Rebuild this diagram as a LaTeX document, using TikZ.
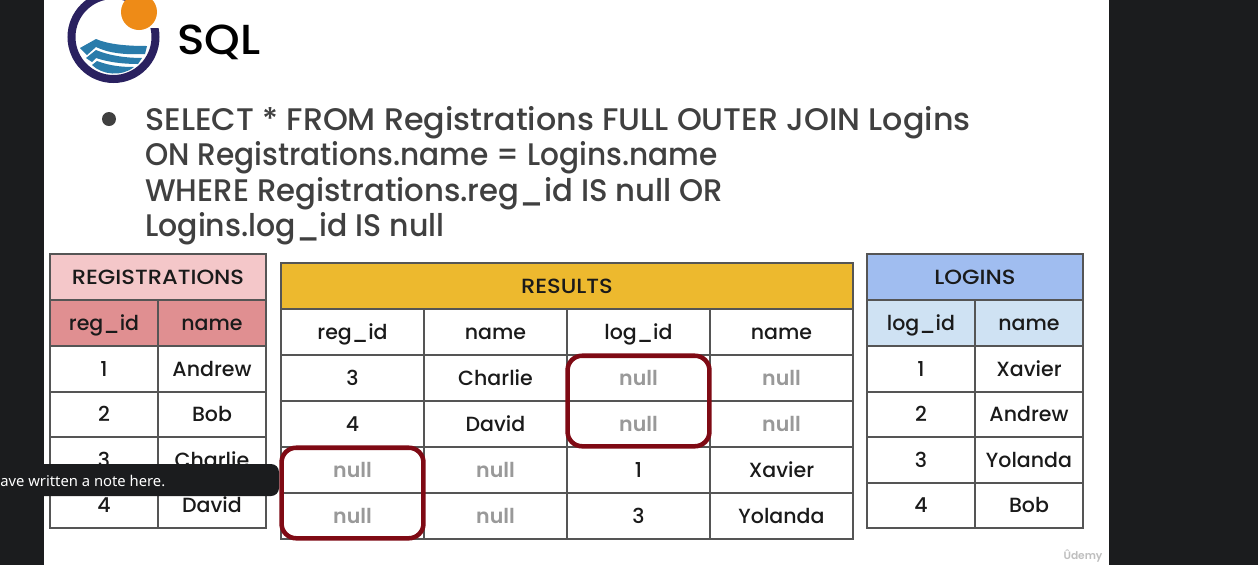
\documentclass[tikz,border=0pt]{standalone}
\usepackage{fontspec}
\setmainfont{Poppins}
\newfontfamily\medfont{Poppins Medium}
\newfontfamily\semifont{Poppins SemiBold}
\newfontfamily\notefont{Noto Sans}
\usetikzlibrary{fit, positioning, calc}
\definecolor{darkbg}{HTML}{1B1C1E}
\definecolor{ringcol}{HTML}{2A2160}
\definecolor{suncol}{HTML}{EE8B17}
\definecolor{seacol}{HTML}{2A7CAB}
\definecolor{linecol}{HTML}{555555}
\definecolor{regtop}{HTML}{F4C7C9}
\definecolor{reghead}{HTML}{E08F91}
\definecolor{restop}{HTML}{EDB92E}
\definecolor{logtop}{HTML}{A0BDF0}
\definecolor{loghead}{HTML}{CFE2F3}
\definecolor{nullcol}{HTML}{999999}
\definecolor{boxcol}{HTML}{7F0A14}
\definecolor{inkcol}{HTML}{1A1A1A}

\begin{document}
\begin{tikzpicture}[x=0.75pt,y=-0.75pt,
  cell/.style={rectangle,draw=linecol,line width=1.6pt,fill=white,minimum width=81pt,minimum height=34.2pt,inner sep=0pt,
    text=inkcol,font=\medfont\fontsize{15.4}{18}\selectfont,text height=11pt,text depth=0pt},
  wide/.style={cell,minimum width=107.25pt},
  nullcell/.style={wide,text=nullcol,font=\semifont\fontsize{15.4}{18}\selectfont},
  banner/.style={cell,minimum width=162pt,minimum height=34.5pt,font=\medfont\fontsize{15.4}{18}\selectfont\addfontfeature{FakeStretch=1.1}},
  nullbox/.style={rectangle,draw=boxcol,line width=3.4pt,rounded corners=11pt,inner sep=-1.2pt},
  sqlline/.style={anchor=base west,inner sep=0pt,text=black!75,font=\medfont\fontsize{23.4}{28}\selectfont},
]
  \useasboundingbox (0,0) rectangle (1258,565);
  \clip (0,0) rectangle (1258,565);
  \fill[darkbg] (0,0) rectangle (1258,565);
  \fill[white] (44,0) rectangle (1109,565);

  % logo
  \draw[ringcol,line width=6pt] (113.5,37) circle (42);
  \fill[white] (128,28) -- (165,28) -- (165,2) -- (128,2) -- cycle;
  \fill[suncol] (139,12) circle (18);
  \fill[seacol] (80,48) -- (96,39) .. controls (110,45) and (130,46) .. (147,46) -- (145,54) .. controls (125,55) and (108,53) .. (96,47) -- (87,55) -- cycle;
  \fill[seacol] (86,58) -- (96,50) .. controls (110,56) and (128,58) .. (142,58) -- (138,64) .. controls (122,64) and (108,62) .. (96,58) -- (92,62) -- cycle;
  \fill[seacol] (92,65) -- (97,61) .. controls (110,66) and (122,67) .. (134,67) .. controls (122,77) and (102,75) .. (92,65) -- cycle;
  \node[anchor=base west,inner sep=0pt,text=black,font=\medfont\fontsize{31.5}{36}\selectfont\addfontfeature{FakeStretch=1.08}] (logotext) at (177,54) {SQL};

  % query
  \node[circle,fill=black!75,minimum size=10.5pt,inner sep=0pt] (dot) at (109,119) {};
  \node[sqlline] (q1) at (145,130) {\addfontfeature{FakeStretch=1.017}SELECT * FROM Registrations FULL OUTER JOIN Logins};
  \node[sqlline] (q2) at (145,165) {\addfontfeature{FakeStretch=0.949}ON Registrations.name = Logins.name};
  \node[sqlline] (q3) at (145,201) {\addfontfeature{FakeStretch=0.985}WHERE Registrations.reg\_id IS null OR};
  \node[sqlline] (q4) at (145,236) {\addfontfeature{FakeStretch=0.961}Logins.log\_id IS null};

  % registrations
  \node[banner,fill=regtop] (regtitle) at (158,277) {REGISTRATIONS};
  \node[cell,fill=reghead] (regh1) at (104,323) {reg\_id};
  \node[cell,fill=reghead] (regh2) at (212,323) {name};
  \foreach \r/\yy/\idtext/\nametext in {1/369/1/Andrew,2/414.5/2/Bob,3/460/3/Charlie,4/505.5/4/David}{
    \node[cell] (reg\r a) at (104,\yy) {\idtext};
    \node[cell] (reg\r b) at (212,\yy) {\nametext};
  }

  % logins
  \node[banner,fill=logtop] (logtitle) at (975,277) {LOGINS};
  \node[cell,fill=loghead] (logh1) at (921,323) {log\_id};
  \node[cell,fill=loghead] (logh2) at (1029,323) {name};
  \foreach \r/\yy/\idtext/\nametext in {1/369/1/Xavier,2/414.5/2/Andrew,3/460/3/Yolanda,4/505.5/4/Bob}{
    \node[cell] (log\r a) at (921,\yy) {\idtext};
    \node[cell] (log\r b) at (1029,\yy) {\nametext};
  }

  % results
  \node[banner,fill=restop,minimum width=429pt] (restitle) at (567,286) {RESULTS};
  \foreach \c/\xx/\head in {1/352.5/reg\_id,2/495.5/name,3/638.5/log\_id,4/781.5/name}{
    \node[wide] (resh\c) at (\xx,332) {\head};
  }
  \node[wide] (res1a) at (352.5,378) {3};
  \node[wide] (res1b) at (495.5,378) {Charlie};
  \node[nullcell] (res1c) at (638.5,378) {null};
  \node[nullcell] (res1d) at (781.5,378) {null};
  \node[wide] (res2a) at (352.5,424) {4};
  \node[wide] (res2b) at (495.5,424) {David};
  \node[nullcell] (res2c) at (638.5,424) {null};
  \node[nullcell] (res2d) at (781.5,424) {null};
  \node[nullcell] (res3a) at (352.5,470) {null};
  \node[nullcell] (res3b) at (495.5,470) {null};
  \node[wide] (res3c) at (638.5,470) {1};
  \node[wide] (res3d) at (781.5,470) {Xavier};
  \node[nullcell] (res4a) at (352.5,516) {null};
  \node[nullcell] (res4b) at (495.5,516) {null};
  \node[wide] (res4c) at (638.5,516) {3};
  \node[wide] (res4d) at (781.5,516) {Yolanda};

  \node[nullbox,fit=(res1c)(res2c)] (boxlog) {};
  \node[nullbox,fit=(res3a)(res4a)] (boxreg) {};

  % note bar
  \fill[darkbg,rounded corners=6pt] (-10,464) rectangle (279,496);
  \node[anchor=base west,inner sep=0pt,text=white,font=\notefont\fontsize{11.1}{14}\selectfont] (note) at (0,486) {ave written a note here.};
  \node[anchor=center,inner sep=0pt,text=black!25,font=\semifont\fontsize{8}{10}\selectfont] (mark) at (1083,556) {Ûdemy};
\end{tikzpicture}
\end{document}
